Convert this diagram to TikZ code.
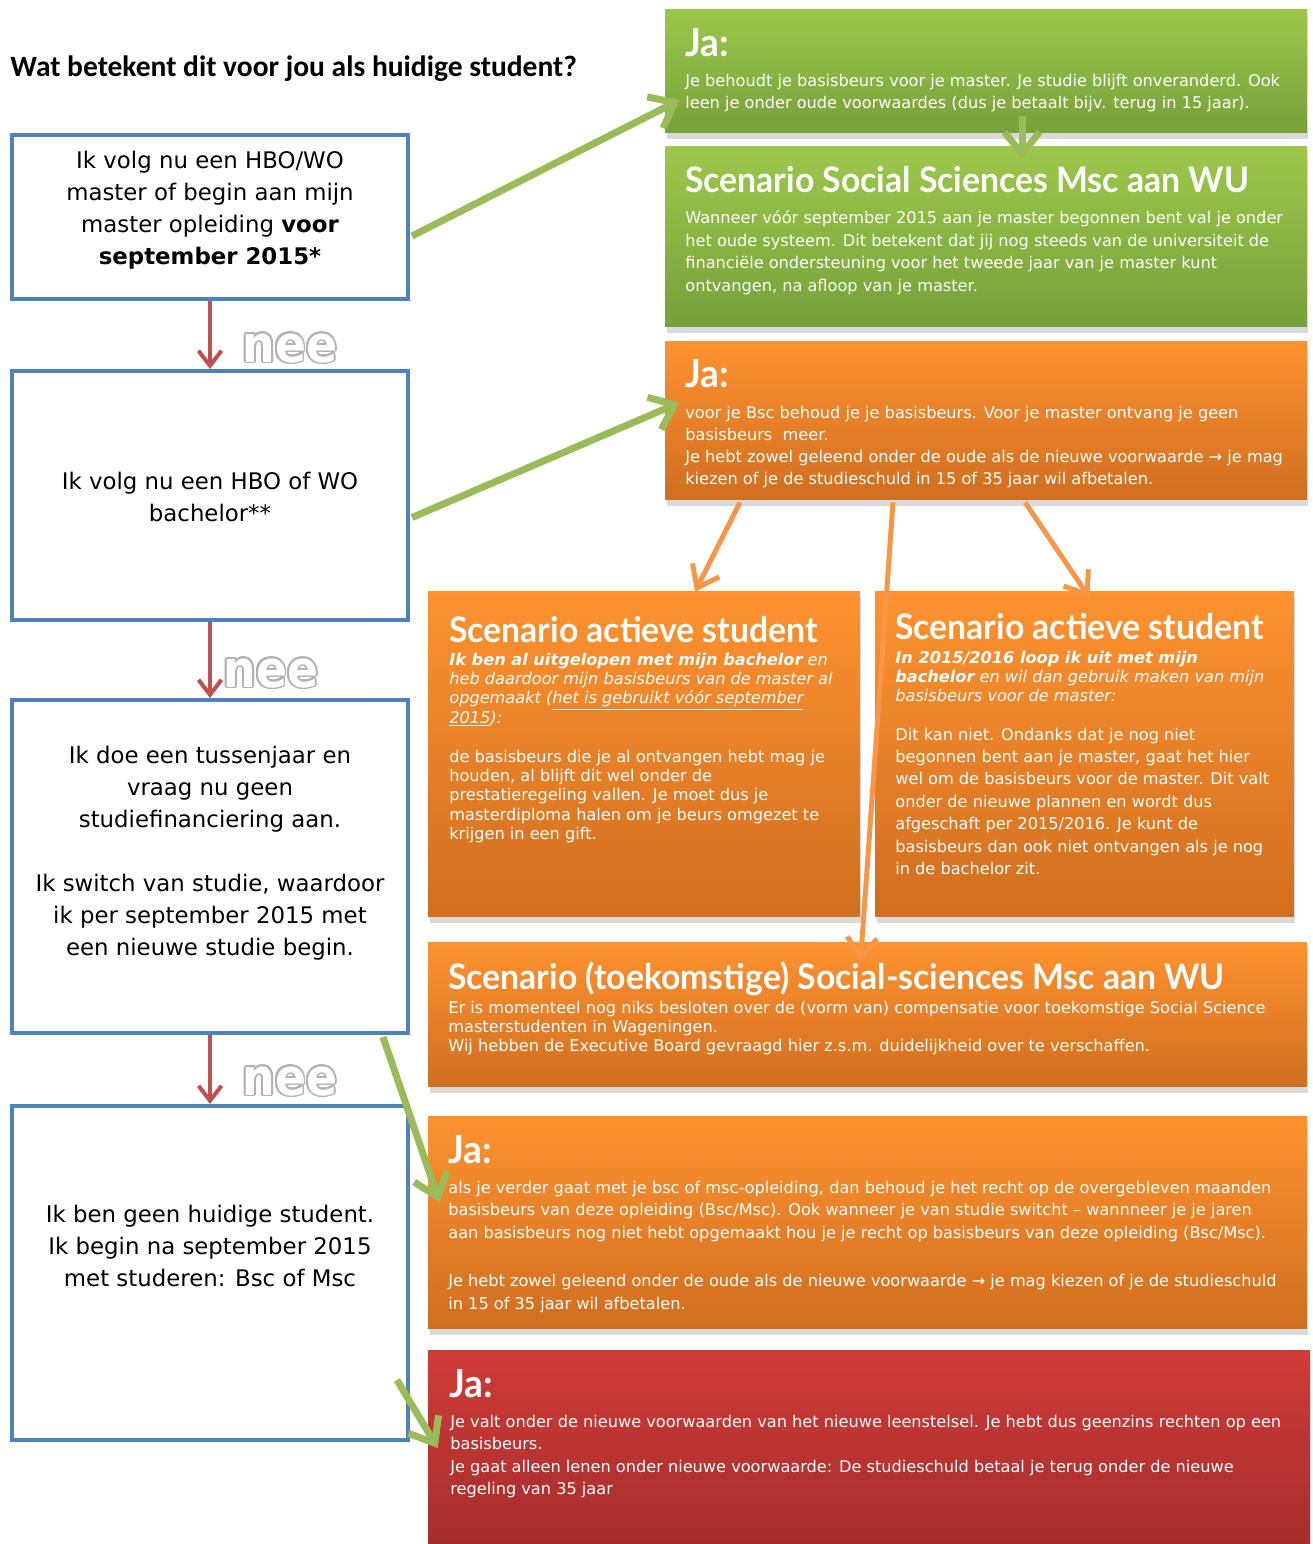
\documentclass[tikz,border=0pt]{standalone}
\usepackage{fontspec}
\setmainfont{DejaVu Sans}
\newfontfamily\kopfont[FakeStretch=0.96]{Lato}
\newfontfamily\titelfont{Carlito}
\newfontfamily\neefont[FakeStretch=0.9]{DejaVu Sans}
\usepackage{contour}
\contourlength{1pt}
\usepackage{tikz}
\usetikzlibrary{arrows.meta,shadows,calc}

\definecolor{vraagblauw}{HTML}{4F81BD}
\definecolor{neerood}{HTML}{C0504D}
\definecolor{pijlgroen}{HTML}{9BBB59}
\definecolor{pijloranje}{HTML}{F79646}
\definecolor{groenboven}{HTML}{9DC84B}
\definecolor{groenonder}{HTML}{76A03A}
\definecolor{oranjeboven}{HTML}{FE9230}
\definecolor{oranjeonder}{HTML}{D06E1F}
\definecolor{roodboven}{HTML}{D03B38}
\definecolor{roodonder}{HTML}{A22C2B}

\tikzset{
 vraag/.style={draw=vraagblauw, line width=0.08cm, fill=white, minimum width=7.92cm, inner sep=0pt},
 vraagtekst/.style={inner sep=0pt, align=center, font=\fontsize{13}{18.2}\selectfont},
 vak/.style={inner sep=0pt, drop shadow={shadow xshift=0.3mm, shadow yshift=-1.2mm, opacity=0.3}},
 groenvak/.style={vak, top color=groenboven, bottom color=groenonder},
 oranjevak/.style={vak, top color=oranjeboven, bottom color=oranjeonder},
 roodvak/.style={vak, top color=roodboven, bottom color=roodonder},
 kop/.style={anchor=base west, inner sep=0pt, text=white, font=\kopfont\bfseries\fontsize{20}{24}\selectfont},
 jakop/.style={kop, font=\kopfont\bfseries\fontsize{22}{26}\selectfont},
 tekst/.style={anchor=north west, inner sep=0pt, text=white, align=left, font=\fontsize{9.2}{12.8}\selectfont},
 neepijl/.style={neerood, line width=0.08cm, -{Straight Barb[length=3mm,width=4.6mm]}},
 japijl/.style={pijlgroen, line width=0.14cm, -{Straight Barb[length=4.4mm,width=7mm]}},
 oranjepijl/.style={pijloranje, line width=0.1cm, -{Straight Barb[length=4mm,width=6mm]}},
 nee/.style={text=white, inner sep=0pt, font=\neefont\bfseries\fontsize{29}{30}\selectfont}
}

\begin{document}
\begin{tikzpicture}[x=0.02cm, y=-0.02cm]

\useasboundingbox (0,0) rectangle (1312,1544);

\node[anchor=base west, inner sep=0pt, font=\titelfont\bfseries\fontsize{16.8}{20}\selectfont] (titel) at (10,77) {Wat betekent dit voor jou als huidige student?};

% vragen links
\node[vraag, minimum height=3.28cm] (v1) at (210,217) {};
\node[vraag, minimum height=4.98cm] (v2) at (210,495.5) {};
\node[vraag, minimum height=6.66cm] (v3) at (210,866.5) {};
\node[vraag, minimum height=6.68cm] (v4) at (210,1273) {};

\node[vraagtekst] (v1tekst) at (210,210.5) {Ik volg nu een HBO/WO\\ master of begin aan mijn\\ master opleiding \textbf{voor}\\ \textbf{september 2015*}};
\node[vraagtekst] (v2tekst) at (210,497) {Ik volg nu een HBO of WO\\ bachelor**};
\node[vraagtekst] (v3tekst) at (210,853.5) {Ik doe een tussenjaar en\\ vraag nu geen\\ studiefinanciering aan.\\[18.2pt] Ik switch van studie, waardoor\\ ik per september 2015 met\\ een nieuwe studie begin.};
\node[vraagtekst] (v4tekst) at (210,1246) {Ik ben geen huidige student.\\ Ik begin na september 2015\\ met studeren: Bsc of Msc};

\node[nee] (nee1) at (290,349) {\contour{gray!60}{nee}};
\node[nee] (nee2) at (271,674) {\contour{gray!60}{nee}};
\node[nee] (nee3) at (290,1082) {\contour{gray!60}{nee}};

% vakken rechts
\node[groenvak, minimum width=12.84cm, minimum height=2.48cm] (g1) at (986,71) {};
\node[groenvak, minimum width=12.84cm, minimum height=3.62cm] (g2) at (986,236.5) {};
\node[oranjevak, minimum width=12.84cm, minimum height=3.18cm] (o1) at (986,420.5) {};
\node[oranjevak, minimum width=8.64cm, minimum height=6.52cm] (a1) at (644,754) {};
\node[oranjevak, minimum width=8.38cm, minimum height=6.52cm] (a2) at (1084.5,754) {};
\node[oranjevak, minimum width=17.58cm, minimum height=2.9cm] (t1) at (867.5,1014.5) {};
\node[oranjevak, minimum width=17.58cm, minimum height=4.26cm] (o5) at (867.5,1222.5) {};
\node[roodvak, minimum width=17.64cm, minimum height=4.2cm] (r1) at (869,1455) {};

\node[jakop] (g1kop) at (685,57) {Ja:};
\node[tekst, font=\fontsize{9.2}{13}\selectfont] (g1tekst) at (685,73.5) {Je behoudt je basisbeurs voor je master. Je studie blijft onveranderd. Ook\\ leen je onder oude voorwaardes (dus je betaalt bijv. terug in 15 jaar).};

\node[kop] (g2kop) at (685,193) {Scenario Social Sciences Msc aan WU};
\node[tekst] (g2tekst) at (685,210.5) {Wanneer vóór september 2015 aan je master begonnen bent val je onder\\ het oude systeem. Dit betekent dat jij nog steeds van de universiteit de\\ financiële ondersteuning voor het tweede jaar van je master kunt\\ ontvangen, na afloop van je master.};

\node[jakop] (o1kop) at (685,387) {Ja:};
\node[tekst, font=\fontsize{9.2}{12.65}\selectfont] (o1tekst) at (685,405.5) {voor je Bsc behoud je je basisbeurs. Voor je master ontvang je geen\\ basisbeurs\ \ meer.\\ Je hebt zowel geleend onder de oude als de nieuwe voorwaarde → je mag\\ kiezen of je de studieschuld in 15 of 35 jaar wil afbetalen.};

\node[kop] (a1kop) at (449,642) {Scenario actieve student};
\node[tekst, font=\itshape\fontsize{9.2}{11}\selectfont] (a1vraag) at (449,652.5) {\textbf{Ik ben al uitgelopen met mijn bachelor} en\\ heb daardoor mijn basisbeurs van de master al\\ opgemaakt (\underline{het is gebruikt vóór september}\\ \underline{2015}):};
\node[tekst, font=\fontsize{9.2}{11}\selectfont] (a1tekst) at (449,749.5) {de basisbeurs die je al ontvangen hebt mag je\\ houden, al blijft dit wel onder de\\ prestatieregeling vallen. Je moet dus je\\ masterdiploma halen om je beurs omgezet te\\ krijgen in een gift.};

\node[kop] (a2kop) at (895,639) {Scenario actieve student};
\node[tekst, font=\itshape\fontsize{9.2}{10.8}\selectfont] (a2vraag) at (895,650.5) {\textbf{In 2015/2016 loop ik uit met mijn}\\ \textbf{bachelor} en wil dan gebruik maken van mijn\\ basisbeurs voor de master:};
\node[tekst, font=\fontsize{9.2}{12.75}\selectfont] (a2tekst) at (895,727.5) {Dit kan niet. Ondanks dat je nog niet\\ begonnen bent aan je master, gaat het hier\\ wel om de basisbeurs voor de master. Dit valt\\ onder de nieuwe plannen en wordt dus\\ afgeschaft per 2015/2016. Je kunt de\\ basisbeurs dan ook niet ontvangen als je nog\\ in de bachelor zit.};

\node[kop] (t1kop) at (448,989) {Scenario (toekomstige) Social-sciences Msc aan WU};
\node[tekst, font=\fontsize{9.2}{11}\selectfont] (t1tekst) at (448,1000.5) {Er is momenteel nog niks besloten over de (vorm van) compensatie voor toekomstige Social Science\\ masterstudenten in Wageningen.\\ Wij hebben de Executive Board gevraagd hier z.s.m. duidelijkheid over te verschaffen.};

\node[jakop] (o5kop) at (448,1163) {Ja:};
\node[tekst, font=\fontsize{9.2}{13}\selectfont] (o5tekst) at (448,1180.5) {als je verder gaat met je bsc of msc-opleiding, dan behoud je het recht op de overgebleven maanden\\ basisbeurs van deze opleiding (Bsc/Msc). Ook wanneer je van studie switcht – wannneer je je jaren\\ aan basisbeurs nog niet hebt opgemaakt hou je je recht op basisbeurs van deze opleiding (Bsc/Msc).\\[14pt] Je hebt zowel geleend onder de oude als de nieuwe voorwaarde → je mag kiezen of je de studieschuld\\ in 15 of 35 jaar wil afbetalen.};

\node[jakop] (r1kop) at (449,1397) {Ja:};
\node[tekst] (r1tekst) at (450,1414.5) {Je valt onder de nieuwe voorwaarden van het nieuwe leenstelsel. Je hebt dus geenzins rechten op een\\ basisbeurs.\\ Je gaat alleen lenen onder nieuwe voorwaarde: De studieschuld betaal je terug onder de nieuwe\\ regeling van 35 jaar};

% pijlen
\draw[neepijl] (v1.south) -- (v2.north);
\draw[neepijl] (v2.south) -- (v3.north);
\draw[neepijl] (v3.south) -- (v4.north);

\draw[japijl] ($(v1.east)+(2,19)$) -- ($(g1.west)+(15,29)$);
\draw[japijl] ($(v2.east)+(2,22)$) -- ($(o1.west)+(15,-18)$);
\draw[japijl] ($(v3.south east)+(-27,2)$) -- ($(o5.west)+(12,-20)$);
\draw[japijl] ($(v4.east)+(-13,107)$) -- ($(r1.west)+(10,-7)$);
\draw[japijl] ($(g1.south)+(36,-17)$) -- ($(g2.north)+(36,14)$);

\draw[oranjepijl] ($(o1.south)+(-246,2)$) -- ($(a1.north)+(51,1)$);
\draw[oranjepijl] ($(o1.south)+(-93,2)$) -- ($(t1.north)+(-7,20)$);
\draw[oranjepijl] ($(o1.south)+(39,2)$) -- ($(a2.north)+(5,7)$);

\end{tikzpicture}
\end{document}
